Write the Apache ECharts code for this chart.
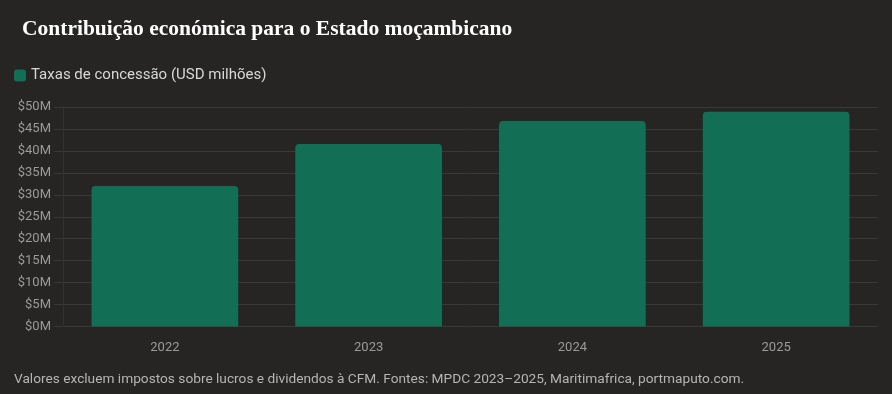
<!DOCTYPE html>
<html><head><meta charset="utf-8">
<script src="https://cdn.jsdelivr.net/npm/echarts@6/dist/echarts.min.js"></script>
<style>html,body{margin:0;padding:0;background:#262524;}#c{width:892px;height:394px;}</style>
</head><body><div id="c"></div>
<script>
const categories = ['2022', '2023', '2024', '2025'];
const concessionFees = [32.0, 41.6, 46.8, 48.9];
const yTicks = [0, 5, 10, 15, 20, 25, 30, 35, 40, 45, 50];
const titleText = 'Contribuição económica para o Estado moçambicano';
const seriesName = 'Taxas de concessão (USD milhões)';
const footnote = 'Valores excluem impostos sobre lucros e dividendos à CFM. Fontes: MPDC 2023–2025, Maritimafrica, portmaputo.com.';

const chart = echarts.init(document.getElementById('c'), null, {renderer: 'canvas'});
chart.setOption({
  backgroundColor: '#262524',
  animation: false,
  title: [{
    text: titleText, left: 17, top: 13,
    textStyle: {color: '#ffffff', fontFamily: 'Liberation Serif', fontWeight: 'bold', fontSize: 21.5}
  }, {
    text: footnote, left: 9, top: 368,
    textStyle: {color: '#b5b5b5', fontFamily: 'Roboto', fontWeight: 'normal', fontSize: 13.7}
  }],
  legend: {
    left: 14, top: 68, padding: 0, itemWidth: 12, itemHeight: 12, itemGap: 10,
    icon: 'roundRect',
    textStyle: {color: '#d8d8d8', fontFamily: 'Roboto', fontSize: 15},
    data: [seriesName]
  },
  grid: {left: 63, right: 14, top: 107, bottom: 67.5},
  xAxis: {
    type: 'category', data: categories,
    axisLine: {show: false}, axisTick: {show: false},
    axisLabel: {color: '#9a9a9a', fontFamily: 'Roboto', fontSize: 13, margin: 15}
  },
  yAxis: {
    type: 'value', min: 0, max: 50, interval: 5,
    axisLine: {show: true, lineStyle: {color: '#333231'}},
    axisTick: {show: true, length: 9, lineStyle: {color: '#3a3938'}},
    splitLine: {lineStyle: {color: '#3a3938'}},
    axisLabel: {color: '#9a9a9a', fontFamily: 'Roboto', fontSize: 13, margin: 12,
      formatter: v => yTicks.includes(v) ? '$' + v + 'M' : ''}
  },
  series: [{
    name: seriesName, type: 'bar', data: concessionFees,
    barCategoryGap: '28%',
    itemStyle: {color: '#136e56', borderRadius: [4,4,0,0]}
  }]
});
</script></body></html>
